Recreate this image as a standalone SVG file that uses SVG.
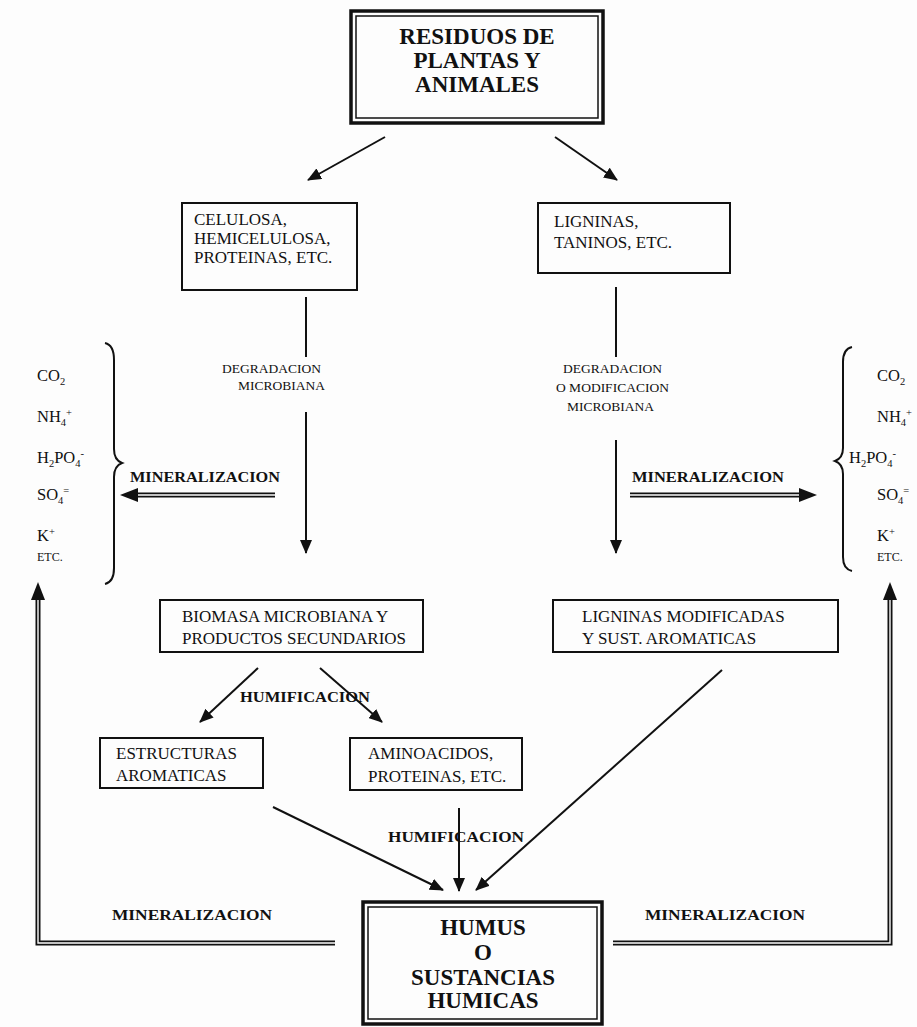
<svg xmlns="http://www.w3.org/2000/svg" width="917" height="1027" viewBox="0 0 917 1027">
<style>
  .bg{fill:#fdfdfd}
  .box{fill:none;stroke:#111;stroke-width:2}
  .dbl-o{fill:none;stroke:#111;stroke-width:3.5}
  .dbl-i{fill:none;stroke:#111;stroke-width:1.5}
  .t{font-family:"Liberation Serif","Times New Roman",serif;fill:#111}
  .n{font-size:17px}
  .big{font-size:23px;font-weight:bold}
  .lab{font-size:13.5px}
  .blab{font-size:14px;font-weight:bold}
  .f{font-size:16.5px}
  .sm{font-size:10.5px}
  .etc{font-size:12px}
  .ln{stroke:#111;stroke-width:2;fill:none}
  .dl{stroke:#111;stroke-width:5;fill:none}
  .dw{stroke:#fdfdfd;stroke-width:1.4;fill:none}
  .br{stroke:#111;stroke-width:2;fill:none}
</style>
<defs>
  <marker id="ah" markerUnits="userSpaceOnUse" markerWidth="14" markerHeight="12" refX="13" refY="6" orient="auto">
    <path d="M0,0 L14,6 L0,12 Z" fill="#111"/>
  </marker>
</defs>
<rect class="bg" x="0" y="0" width="917" height="1027"/>

<g id="residuos">
  <rect class="dbl-o" x="351" y="11" width="252" height="112"/>
  <rect class="dbl-i" x="356" y="16" width="242" height="102"/>
  <text class="t big" x="477" y="44" text-anchor="middle">RESIDUOS DE</text>
  <text class="t big" x="477" y="68" text-anchor="middle">PLANTAS Y</text>
  <text class="t big" x="477" y="92" text-anchor="middle">ANIMALES</text>
</g>

<g id="celulosa">
  <rect class="box" x="182" y="203" width="175" height="87"/>
  <text class="t n" x="194" y="225">CELULOSA,</text>
  <text class="t n" x="194" y="244">HEMICELULOSA,</text>
  <text class="t n" x="194" y="263">PROTEINAS, ETC.</text>
</g>

<g id="ligninas">
  <rect class="box" x="538" y="203" width="192" height="70"/>
  <text class="t n" x="554" y="227">LIGNINAS,</text>
  <text class="t n" x="554" y="248">TANINOS, ETC.</text>
</g>

<g id="minerales-izq">
  <text class="t f" x="37" y="381">CO<tspan class="sm" dy="4">2</tspan></text>
  <text class="t f" x="37" y="422">NH<tspan class="sm" dy="4">4</tspan><tspan class="sm" dy="-10">+</tspan></text>
  <text class="t f" x="37" y="463">H<tspan class="sm" dy="4">2</tspan><tspan dy="-4">PO</tspan><tspan class="sm" dy="4">4</tspan><tspan class="sm" dy="-10">-</tspan></text>
  <text class="t f" x="37" y="500">SO<tspan class="sm" dy="4">4</tspan><tspan class="sm" dy="-10">=</tspan></text>
  <text class="t f" x="37" y="541">K<tspan class="sm" dy="-6">+</tspan></text>
  <text class="t etc" x="37" y="561">ETC.</text>
  <path class="br" d="M105,343 Q114,345 114,360 V449 Q114,460 122,463 Q114,466 114,477 V568 Q114,582 105,584"/>
</g>

<g id="minerales-der">
  <text class="t f" x="877" y="381">CO<tspan class="sm" dy="4">2</tspan></text>
  <text class="t f" x="877" y="422">NH<tspan class="sm" dy="4">4</tspan><tspan class="sm" dy="-10">+</tspan></text>
  <text class="t f" x="849" y="463">H<tspan class="sm" dy="4">2</tspan><tspan dy="-4">PO</tspan><tspan class="sm" dy="4">4</tspan><tspan class="sm" dy="-10">-</tspan></text>
  <text class="t f" x="877" y="500">SO<tspan class="sm" dy="4">4</tspan><tspan class="sm" dy="-10">=</tspan></text>
  <text class="t f" x="877" y="541">K<tspan class="sm" dy="-6">+</tspan></text>
  <text class="t etc" x="877" y="561">ETC.</text>
  <path class="br" d="M852,347 Q843,349 843,362 V448 Q843,458 835,461 Q843,464 843,474 V557 Q843,569 852,571"/>
</g>

<g id="biomasa">
  <rect class="box" x="160" y="600" width="263" height="52"/>
  <text class="t n" x="182" y="622">BIOMASA MICROBIANA Y</text>
  <text class="t n" x="182" y="644">PRODUCTOS SECUNDARIOS</text>
</g>

<g id="ligninas-mod">
  <rect class="box" x="553" y="600" width="285" height="52"/>
  <text class="t n" x="582" y="622">LIGNINAS MODIFICADAS</text>
  <text class="t n" x="582" y="644">Y SUST. AROMATICAS</text>
</g>

<g id="estructuras">
  <rect class="box" x="100" y="738" width="163" height="50"/>
  <text class="t n" x="116" y="759">ESTRUCTURAS</text>
  <text class="t n" x="116" y="781">AROMATICAS</text>
</g>

<g id="aminoacidos">
  <rect class="box" x="350" y="738" width="172" height="52"/>
  <text class="t n" x="368" y="759">AMINOACIDOS,</text>
  <text class="t n" x="368" y="782">PROTEINAS, ETC.</text>
</g>

<g id="humus">
  <rect class="dbl-o" x="363" y="902" width="239" height="122"/>
  <rect class="dbl-i" x="368" y="907" width="229" height="112"/>
  <text class="t big" x="483" y="935" text-anchor="middle">HUMUS</text>
  <text class="t big" x="483" y="960" text-anchor="middle">O</text>
  <text class="t big" x="483" y="985" text-anchor="middle">SUSTANCIAS</text>
  <text class="t big" x="483" y="1008" text-anchor="middle">HUMICAS</text>
</g>

<g id="connectors">
  <line class="ln" x1="385" y1="137" x2="308" y2="180" marker-end="url(#ah)"/>
  <line class="ln" x1="555" y1="137" x2="617" y2="180" marker-end="url(#ah)"/>

  <line class="ln" x1="306" y1="297" x2="306" y2="357"/>
  <text class="t lab" x="222" y="373">DEGRADACION</text>
  <text class="t lab" x="238" y="390">MICROBIANA</text>
  <line class="ln" x1="306" y1="412" x2="306" y2="553" marker-end="url(#ah)"/>

  <line class="ln" x1="616" y1="287" x2="616" y2="357"/>
  <text class="t lab" x="563" y="373">DEGRADACION</text>
  <text class="t lab" x="556" y="392">O MODIFICACION</text>
  <text class="t lab" x="567" y="411">MICROBIANA</text>
  <line class="ln" x1="616" y1="440" x2="616" y2="553" marker-end="url(#ah)"/>

  <text class="t blab" x="130" y="482" textLength="150" lengthAdjust="spacingAndGlyphs">MINERALIZACION</text>
  <path class="dl" d="M275,495 H136"/>
  <path class="dw" d="M275,495 H136"/>
  <path d="M120,495 L138,488 L138,502 Z" fill="#111"/>

  <text class="t blab" x="632" y="482" textLength="152" lengthAdjust="spacingAndGlyphs">MINERALIZACION</text>
  <path class="dl" d="M630,495 H801"/>
  <path class="dw" d="M630,495 H801"/>
  <path d="M817,495 L799,488 L799,502 Z" fill="#111"/>

  <line class="ln" x1="258" y1="668" x2="200" y2="722" marker-end="url(#ah)"/>
  <line class="ln" x1="320" y1="668" x2="382" y2="722" marker-end="url(#ah)"/>
  <text class="t blab" x="240" y="702" textLength="130" lengthAdjust="spacingAndGlyphs">HUMIFICACION</text>

  <line class="ln" x1="273" y1="807" x2="443" y2="890" marker-end="url(#ah)"/>
  <line class="ln" x1="459" y1="808" x2="459" y2="891" marker-end="url(#ah)"/>
  <line class="ln" x1="722" y1="670" x2="476" y2="890" marker-end="url(#ah)"/>
  <text class="t blab" x="388" y="842" textLength="136" lengthAdjust="spacingAndGlyphs">HUMIFICACION</text>

  <text class="t blab" x="112" y="920" textLength="160" lengthAdjust="spacingAndGlyphs">MINERALIZACION</text>
  <path class="dl" d="M335,943 H38 V598"/>
  <path class="dw" d="M335,943 H38 V598"/>
  <path d="M38,582 L31,600 L45,600 Z" fill="#111"/>

  <text class="t blab" x="645" y="920" textLength="160" lengthAdjust="spacingAndGlyphs">MINERALIZACION</text>
  <path class="dl" d="M613,943 H890 V598"/>
  <path class="dw" d="M613,943 H890 V598"/>
  <path d="M890,582 L883,600 L897,600 Z" fill="#111"/>
</g>
</svg>
